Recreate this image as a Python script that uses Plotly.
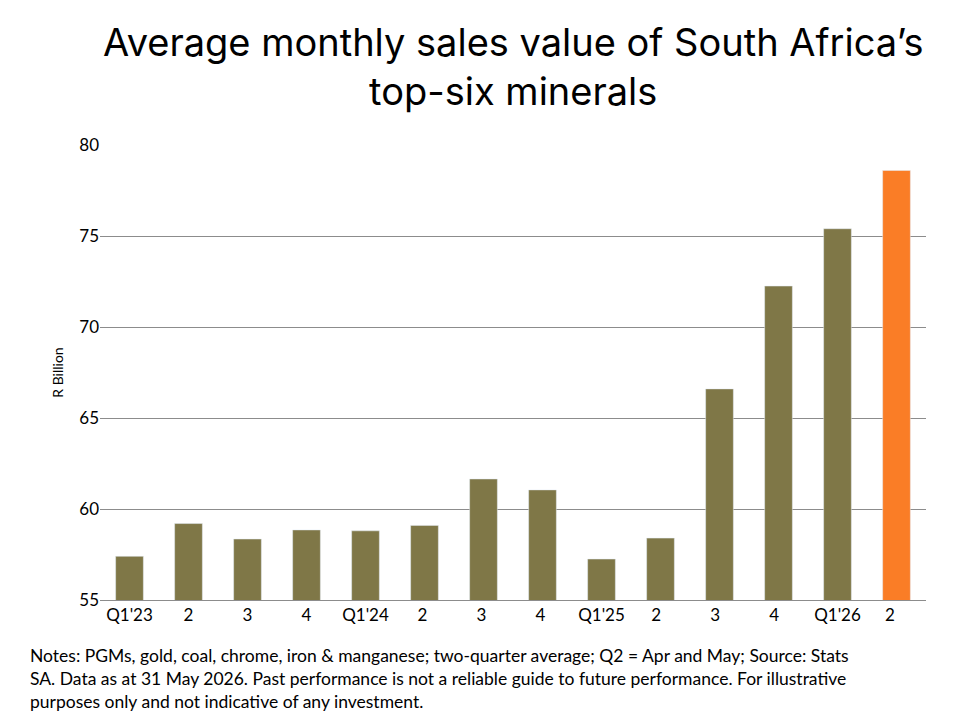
import plotly.graph_objects as go

categories = ["Q1'23","2","3","4","Q1'24","2 ","3 ","4 ","Q1'25","2  ","3  ","4  ","Q1'26","2   "]
values = [57.4,59.2,58.35,58.85,58.8,59.1,61.65,61.05,57.25,58.4,66.6,72.25,75.4,78.6]
colors = ["#7F7747"]*13 + ["#FA7D26"]

fig = go.Figure(go.Bar(x=categories, y=values, marker_color=colors, width=0.47))
fig.update_layout(
    width=960, height=720, plot_bgcolor="white", paper_bgcolor="white",
    margin=dict(l=92, r=42, t=137, b=128, autoexpand=False),
    font=dict(family="Lato", color="black"),
    showlegend=False,
)
fig.add_annotation(xref="paper", yref="paper", x=0.5, y=1.0 + 128/455, xanchor="center", yanchor="top",
    showarrow=False, align="center", font=dict(size=38, family="Inter", color="black"),
    text="Average monthly sales value of South Africa’s<br>top-six minerals")
fig.update_yaxes(range=[55,80], dtick=5, showgrid=True, gridcolor="#8c8c8c", gridwidth=1,
                 zeroline=False, tickfont=dict(size=17), ticks="", ticklen=10, tickcolor="white",
                 title=dict(text="R Billion", font=dict(size=14), standoff=12))
fig.update_xaxes(tickfont=dict(size=17), showline=True, linecolor="#8c8c8c", type="category")
fig.add_annotation(xref="paper", yref="paper", x=-0.087, y=-0.095, xanchor="left", yanchor="top",
    align="left", showarrow=False, font=dict(size=17.5, family="Lato"),
    text="Notes: PGMs, gold, coal, chrome, iron & manganese; two-quarter average; Q2 = Apr and May; Source: Stats<br>SA. Data as at 31 May 2026. Past performance is not a reliable guide to future performance. For illustrative<br>purposes only and not indicative of any investment.")
fig.write_html("out.html")
